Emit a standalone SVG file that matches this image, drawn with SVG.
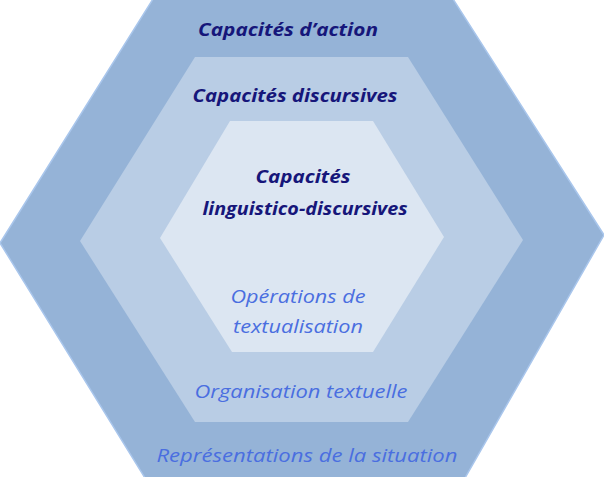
<svg xmlns="http://www.w3.org/2000/svg" width="604" height="477" viewBox="0 0 604 477">
<style>
.dark{font-family:"Open Sans","Lato",sans-serif;font-weight:bold;font-style:italic;font-size:17px;fill:#16167a;text-anchor:middle;font-variant-ligatures:none}
.blue{font-family:"Open Sans","Lato",sans-serif;font-style:italic;font-size:17.5px;fill:#4a6ee0;text-anchor:middle;font-variant-ligatures:none}
</style>
<rect width="604" height="477" fill="#ffffff"/>
<g id="outer">
<polygon points="153,-1 453,-1 604,235 465,478 145,478 0,243" fill="#95b3d7" stroke="#a9c6ec" stroke-width="1.5"/>
<text class="dark" x="288" y="36" textLength="180" lengthAdjust="spacingAndGlyphs">Capacités d’action</text>
<text class="blue" x="307" y="462" textLength="301" lengthAdjust="spacingAndGlyphs">Représentations de la situation</text>
</g>
<g id="middle">
<polygon points="195,57 408,57 523,240 408,422 195,422 80,241" fill="#b9cde5"/>
<text class="dark" x="295" y="102" textLength="205" lengthAdjust="spacingAndGlyphs">Capacités discursives</text>
<text class="blue" x="301" y="398" textLength="213" lengthAdjust="spacingAndGlyphs">Organisation textuelle</text>
</g>
<g id="inner">
<polygon points="230,121 373,121 444,237 373,352 232,352 160,238" fill="#dce6f2"/>
<text class="dark" x="303" y="183" textLength="95" lengthAdjust="spacingAndGlyphs">Capacités</text>
<text class="dark" x="305" y="215" textLength="205" lengthAdjust="spacingAndGlyphs">linguistico-discursives</text>
<text class="blue" x="298" y="303" textLength="135" lengthAdjust="spacingAndGlyphs">Opérations de</text>
<text class="blue" x="298" y="333" textLength="130" lengthAdjust="spacingAndGlyphs">textualisation</text>
</g>
<g id="connectors"></g>
</svg>
